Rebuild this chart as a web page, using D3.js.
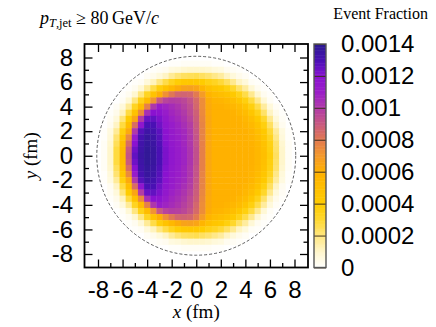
<!DOCTYPE html>
<html><head><meta charset="utf-8">
<script src="https://cdn.jsdelivr.net/npm/d3@7"></script>
<style>html,body{margin:0;padding:0;background:#fff;} svg{display:block;}</style>
</head><body>
<svg id="chart" width="436" height="327"></svg>
<script>
// ---------- data ----------
const xCenters = [-7.5,-7,-6.5,-6,-5.5,-5,-4.5,-4,-3.5,-3,-2.5,-2,-1.5,-1,-0.5,0,0.5,1,1.5,2,2.5,3,3.5,4,4.5,5,5.5,6,6.5,7,7.5];
const yCenters = [7.5,7,6.5,6,5.5,5,4.5,4,3.5,3,2.5,2,1.5,1,0.5,0,-0.5,-1,-1.5,-2,-2.5,-3,-3.5,-4,-4.5,-5,-5.5,-6,-6.5,-7,-7.5];
// event fraction in units of 1e-4, rows follow yCenters, columns follow xCenters
const fractionE4 = [
[0,0,0,0,0,0,0,0,0,0,0,0.1,0.1,0.2,0.2,0.2,0.2,0.2,0.1,0.1,0,0,0,0,0,0,0,0,0,0,0],
[0,0,0,0,0,0,0,0,0.1,0.2,0.3,0.6,0.7,0.9,1.0,1.0,1.0,0.9,0.7,0.6,0.3,0.2,0.1,0,0,0,0,0,0,0,0],
[0,0,0,0,0,0,0,0.2,0.4,0.7,1.1,1.7,2.1,2.4,2.5,2.6,2.4,2.2,1.9,1.6,1.1,0.7,0.4,0.2,0,0,0,0,0,0,0],
[0,0,0,0,0,0.1,0.2,0.7,1.2,2.0,2.7,3.4,3.9,4.3,4.4,4.3,4.0,3.6,3.3,2.9,2.4,1.8,1.1,0.7,0.2,0.1,0,0,0,0,0],
[0,0,0,0,0.1,0.3,0.8,1.7,2.7,3.8,4.7,5.5,6.2,6.6,6.7,6.5,5.7,4.9,4.5,4.2,3.7,3.1,2.3,1.6,0.8,0.3,0.1,0,0,0,0],
[0,0,0,0.1,0.3,0.9,2.0,3.3,4.7,6.1,7.3,8.1,8.6,8.7,8.6,8.0,6.9,5.8,5.3,5.1,4.8,4.2,3.5,2.7,1.8,0.9,0.3,0.1,0,0,0],
[0,0,0,0.2,0.8,2.0,3.5,5.2,7.2,9.0,9.7,9.9,9.8,9.6,9.2,8.5,7.4,6.2,5.8,5.7,5.4,5.1,4.5,3.7,2.8,1.8,0.8,0.2,0,0,0],
[0,0,0.2,0.7,1.7,3.3,5.2,7.8,10.1,11.2,10.8,10.5,10.2,9.8,9.4,8.6,7.4,6.3,6,6,5.8,5.6,5.2,4.6,3.7,2.7,1.6,0.7,0.2,0,0],
[0,0.1,0.4,1.2,2.8,4.8,7.5,10.4,12.0,11.8,11.2,10.7,10.4,10.0,9.5,8.8,7.5,6.3,6,6,6,5.9,5.6,5.2,4.5,3.5,2.3,1.1,0.4,0.1,0],
[0,0.2,0.7,2.1,4.0,6.5,9.9,12.5,12.6,12.2,11.5,10.9,10.6,10.2,9.7,8.9,7.6,6.4,6,6,6,6,5.9,5.6,5.1,4.2,3.1,1.8,0.7,0.2,0],
[0,0.3,1.1,2.8,5.1,8.4,11.7,13.0,13.0,12.4,11.7,11.2,10.8,10.4,9.9,9.0,7.7,6.4,6,6,6,6,6,5.8,5.4,4.8,3.7,2.4,1.1,0.3,0],
[0.1,0.6,1.7,3.7,6.3,10.0,12.8,13.4,13.2,12.7,11.9,11.3,10.9,10.6,10.0,9.1,7.7,6.4,6,6,6,6,6,6,5.7,5.1,4.2,2.9,1.6,0.6,0.1],
[0.1,0.7,2.2,4.4,7.5,11.2,13.1,13.6,13.4,12.8,12.0,11.4,11.0,10.7,10.1,9.2,7.7,6.4,6,6,6,6,6,6,5.8,5.3,4.5,3.3,1.9,0.7,0.1],
[0.2,0.9,2.5,4.9,8.4,12.0,13.3,13.7,13.5,12.9,12.1,11.5,11.1,10.7,10.1,9.2,7.8,6.4,6,6,6,6,6,6,5.9,5.5,4.8,3.6,2.2,0.9,0.2],
[0.2,1.0,2.8,5.2,9.0,12.4,13.4,13.8,13.6,13.0,12.2,11.6,11.2,10.8,10.2,9.3,7.8,6.4,6,6,6,6,6,6,6,5.6,4.9,3.7,2.3,1.0,0.2],
[0.2,1.0,2.8,5.3,9.2,12.6,13.5,13.8,13.6,13.0,12.2,11.6,11.2,10.8,10.2,9.3,7.8,6.4,6,6,6,6,6,6,6,5.6,5.0,3.8,2.4,1.0,0.2],
[0.2,1.0,2.8,5.2,9.0,12.4,13.4,13.8,13.6,13.0,12.2,11.6,11.2,10.8,10.2,9.3,7.8,6.4,6,6,6,6,6,6,6,5.6,4.9,3.7,2.3,1.0,0.2],
[0.2,0.9,2.5,4.9,8.4,12.0,13.3,13.7,13.5,12.9,12.1,11.5,11.1,10.7,10.1,9.2,7.8,6.4,6,6,6,6,6,6,5.9,5.5,4.8,3.6,2.2,0.9,0.2],
[0.1,0.7,2.2,4.4,7.5,11.2,13.1,13.6,13.4,12.8,12.0,11.4,11.0,10.7,10.1,9.2,7.7,6.4,6,6,6,6,6,6,5.8,5.3,4.5,3.3,1.9,0.7,0.1],
[0.1,0.6,1.7,3.7,6.3,10.0,12.8,13.4,13.2,12.7,11.9,11.3,10.9,10.6,10.0,9.1,7.7,6.4,6,6,6,6,6,6,5.7,5.1,4.2,2.9,1.6,0.6,0.1],
[0,0.3,1.1,2.8,5.1,8.4,11.7,13.0,13.0,12.4,11.7,11.2,10.8,10.4,9.9,9.0,7.7,6.4,6,6,6,6,6,5.8,5.4,4.8,3.7,2.4,1.1,0.3,0],
[0,0.2,0.7,2.1,4.0,6.5,9.9,12.5,12.6,12.2,11.5,10.9,10.6,10.2,9.7,8.9,7.6,6.4,6,6,6,6,5.9,5.6,5.1,4.2,3.1,1.8,0.7,0.2,0],
[0,0.1,0.4,1.2,2.8,4.8,7.5,10.4,12.0,11.8,11.2,10.7,10.4,10.0,9.5,8.8,7.5,6.3,6,6,6,5.9,5.6,5.2,4.5,3.5,2.3,1.1,0.4,0.1,0],
[0,0,0.2,0.7,1.7,3.3,5.2,7.8,10.1,11.2,10.8,10.5,10.2,9.8,9.4,8.6,7.4,6.3,6,6,5.8,5.6,5.2,4.6,3.7,2.7,1.6,0.7,0.2,0,0],
[0,0,0,0.2,0.8,2.0,3.5,5.2,7.2,9.0,9.7,9.9,9.8,9.6,9.2,8.5,7.4,6.2,5.8,5.7,5.4,5.1,4.5,3.7,2.8,1.8,0.8,0.2,0,0,0],
[0,0,0,0.1,0.3,0.9,2.0,3.3,4.7,6.1,7.3,8.1,8.6,8.7,8.6,8.0,6.9,5.8,5.3,5.1,4.8,4.2,3.5,2.7,1.8,0.9,0.3,0.1,0,0,0],
[0,0,0,0,0.1,0.3,0.8,1.7,2.7,3.8,4.7,5.5,6.2,6.6,6.7,6.5,5.7,4.9,4.5,4.2,3.7,3.1,2.3,1.6,0.8,0.3,0.1,0,0,0,0],
[0,0,0,0,0,0.1,0.2,0.7,1.2,2.0,2.7,3.4,3.9,4.3,4.4,4.3,4.0,3.6,3.3,2.9,2.4,1.8,1.1,0.7,0.2,0.1,0,0,0,0,0],
[0,0,0,0,0,0,0,0.2,0.4,0.7,1.1,1.7,2.1,2.4,2.5,2.6,2.4,2.2,1.9,1.6,1.1,0.7,0.4,0.2,0,0,0,0,0,0,0],
[0,0,0,0,0,0,0,0,0.1,0.2,0.3,0.6,0.7,0.9,1.0,1.0,1.0,0.9,0.7,0.6,0.3,0.2,0.1,0,0,0,0,0,0,0,0],
[0,0,0,0,0,0,0,0,0,0,0,0.1,0.1,0.2,0.2,0.2,0.2,0.2,0.1,0.1,0,0,0,0,0,0,0,0,0,0,0]
];
const fractionUnit = 1e-4;
const cellSize = 0.5;          // fm
const boundaryRadius = 8.1;    // fm, dashed circle
const xMajorTicks = [-8,-6,-4,-2,0,2,4,6,8];
const xMinorTicks = [-7,-5,-3,-1,1,3,5,7];
const yMajorTicks = [-8,-6,-4,-2,0,2,4,6,8];
const yMinorTicks = [-7,-5,-3,-1,1,3,5,7];
const cbTicks = [0,0.0002,0.0004,0.0006,0.0008,0.001,0.0012,0.0014];
const cbTickLabels = ["0","0.0002","0.0004","0.0006","0.0008","0.001","0.0012","0.0014"];
const colorStopValues = [0,0.0001,0.0002,0.0003,0.0004,0.0005,0.0006,0.0007,0.0008,0.0009,0.001,0.0011,0.0012,0.00125,0.0013,0.0014];
const colorStopColors = ["#ffffff","#fff6cc","#ffe680","#ffd830","#ffcc00","#ffbf00","#ffb100","#f49a2a","#e27a50","#c95a80","#b03aa8","#9a1ec8","#8a12d0","#6812c4","#4a10b4","#2c1a90"];

// ---------- drawing ----------
const svg = d3.select("#chart");
const plot = {left:84.5, right:308, top:44, bottom:267.5};
const x = d3.scaleLinear().domain([-9.1, 9.1]).range([plot.left, plot.right]);
const y = d3.scaleLinear().domain([-9.1, 9.1]).range([plot.bottom, plot.top]);
const color = d3.scaleLinear().domain(colorStopValues).range(colorStopColors).clamp(true);

svg.append("rect").attr("width",436).attr("height",327).attr("fill","#fff");
svg.append("clipPath").attr("id","clip").append("rect")
  .attr("x",plot.left).attr("y",plot.top).attr("width",plot.right-plot.left).attr("height",plot.bottom-plot.top);

const cells = [];
fractionE4.forEach((row, r) => row.forEach((v, c) => {
  if (v > 0) cells.push({x: xCenters[c], y: yCenters[r], v: v * fractionUnit});
}));
const h = cellSize / 2;
svg.append("g").attr("clip-path","url(#clip)").selectAll("rect").data(cells).join("rect")
  .attr("x", d => x(d.x - h))
  .attr("y", d => y(d.y + h))
  .attr("width", d => x(d.x + h) - x(d.x - h) + 0.4)
  .attr("height", d => y(d.y - h) - y(d.y + h) + 0.4)
  .attr("fill", d => color(d.v));

svg.append("ellipse")
  .attr("cx", x(0)).attr("cy", y(0))
  .attr("rx", x(boundaryRadius) - x(0)).attr("ry", y(0) - y(boundaryRadius))
  .attr("fill","none").attr("stroke","#333").attr("stroke-width",0.8).attr("stroke-dasharray","3,2");

const tickFont = "'Liberation Sans', Arial, Helvetica, sans-serif";
const tickFontSize = 24;
function styleAxis(g, labels) {
  g.select(".domain").remove();
  g.selectAll(".tick line").attr("stroke","#000").attr("stroke-width",1.3);
  g.selectAll(".tick text").attr("fill","#000").attr("font-family",tickFont).attr("font-size",tickFontSize);
  if (!labels) g.selectAll(".tick text").remove();
}
const fmt = d => String(d);
svg.append("g").attr("transform",`translate(0,${plot.bottom})`)
  .call(d3.axisBottom(x).tickValues(xMajorTicks).tickSize(-8).tickPadding(13).tickFormat(fmt)).call(g=>styleAxis(g,true));
svg.append("g").attr("transform",`translate(0,${plot.bottom})`)
  .call(d3.axisBottom(x).tickValues(xMinorTicks).tickSize(-4.5).tickFormat("")).call(g=>styleAxis(g,false));
svg.append("g").attr("transform",`translate(0,${plot.top})`)
  .call(d3.axisTop(x).tickValues(xMajorTicks).tickSize(-8).tickFormat("")).call(g=>styleAxis(g,false));
svg.append("g").attr("transform",`translate(0,${plot.top})`)
  .call(d3.axisTop(x).tickValues(xMinorTicks).tickSize(-4.5).tickFormat("")).call(g=>styleAxis(g,false));
svg.append("g").attr("transform",`translate(${plot.left},0)`)
  .call(d3.axisLeft(y).tickValues(yMajorTicks).tickSize(-8).tickPadding(11.5).tickFormat(fmt)).call(g=>styleAxis(g,true));
svg.append("g").attr("transform",`translate(${plot.left},0)`)
  .call(d3.axisLeft(y).tickValues(yMinorTicks).tickSize(-4.5).tickFormat("")).call(g=>styleAxis(g,false));
svg.append("g").attr("transform",`translate(${plot.right},0)`)
  .call(d3.axisRight(y).tickValues(yMajorTicks).tickSize(-8).tickFormat("")).call(g=>styleAxis(g,false));
svg.append("g").attr("transform",`translate(${plot.right},0)`)
  .call(d3.axisRight(y).tickValues(yMinorTicks).tickSize(-4.5).tickFormat("")).call(g=>styleAxis(g,false));

svg.append("rect").attr("x",plot.left).attr("y",plot.top)
  .attr("width",plot.right-plot.left).attr("height",plot.bottom-plot.top)
  .attr("fill","none").attr("stroke","#000").attr("stroke-width",1.8);

// colour bar
const cb = {left:314, right:326, top:44, bottom:267.5};
const cbScale = d3.scaleLinear().domain([cbTicks[0], cbTicks[cbTicks.length-1]]).range([cb.bottom, cb.top]);
const cbSteps = d3.range(0, 140).map(i => i * 1e-5);
svg.append("g").selectAll("rect").data(cbSteps).join("rect")
  .attr("x", cb.left).attr("width", cb.right - cb.left)
  .attr("y", d => cbScale(d + 1e-5)).attr("height", d => cbScale(d) - cbScale(d + 1e-5) + 0.5)
  .attr("fill", d => color(d + 0.5e-5));
const cbAxis = svg.append("g").attr("transform",`translate(${cb.right},0)`)
  .call(d3.axisRight(cbScale).tickValues(cbTicks).tickSize(-(cb.right-cb.left)).tickPadding(15)
        .tickFormat((d,i) => cbTickLabels[i]));
cbAxis.select(".domain").remove();
cbAxis.selectAll(".tick line").attr("stroke","#3a2a1a").attr("stroke-width",1.1).attr("opacity",0.85);
cbAxis.selectAll(".tick text").attr("fill","#000").attr("font-family",tickFont).attr("font-size",tickFontSize);
svg.append("rect").attr("x",cb.left).attr("y",cb.top).attr("width",cb.right-cb.left).attr("height",cb.bottom-cb.top)
  .attr("fill","none").attr("stroke","#555").attr("stroke-width",1.4);

// titles
const serif = "'Liberation Serif', 'Times New Roman', serif";
svg.append("text").attr("x",428).attr("y",19).attr("text-anchor","end")
  .attr("font-family",serif).attr("font-size",16).attr("fill","#000").text("Event Fraction");
const t = svg.append("text").attr("x",40).attr("y",24).attr("font-family",serif).attr("font-size",18).attr("fill","#000");
t.append("tspan").attr("font-style","italic").text("p");
t.append("tspan").attr("font-size",12.5).attr("dy",3).attr("font-style","italic").text("T");
t.append("tspan").attr("font-size",12.5).text(",jet");
t.append("tspan").attr("dy",-3).text(" \u2265 80\u2009GeV/");
t.append("tspan").attr("font-style","italic").text("c");

const xt = svg.append("text").attr("x",x(0)).attr("y",318).attr("text-anchor","middle")
  .attr("font-family",serif).attr("font-size",19).attr("fill","#000");
xt.append("tspan").attr("font-style","italic").text("x");
xt.append("tspan").text(" (fm)");
const yt = svg.append("text").attr("transform",`translate(37,${y(0)}) rotate(-90)`).attr("text-anchor","middle")
  .attr("font-family",serif).attr("font-size",19).attr("fill","#000");
yt.append("tspan").attr("font-style","italic").text("y");
yt.append("tspan").text(" (fm)");
</script>
</body></html>
